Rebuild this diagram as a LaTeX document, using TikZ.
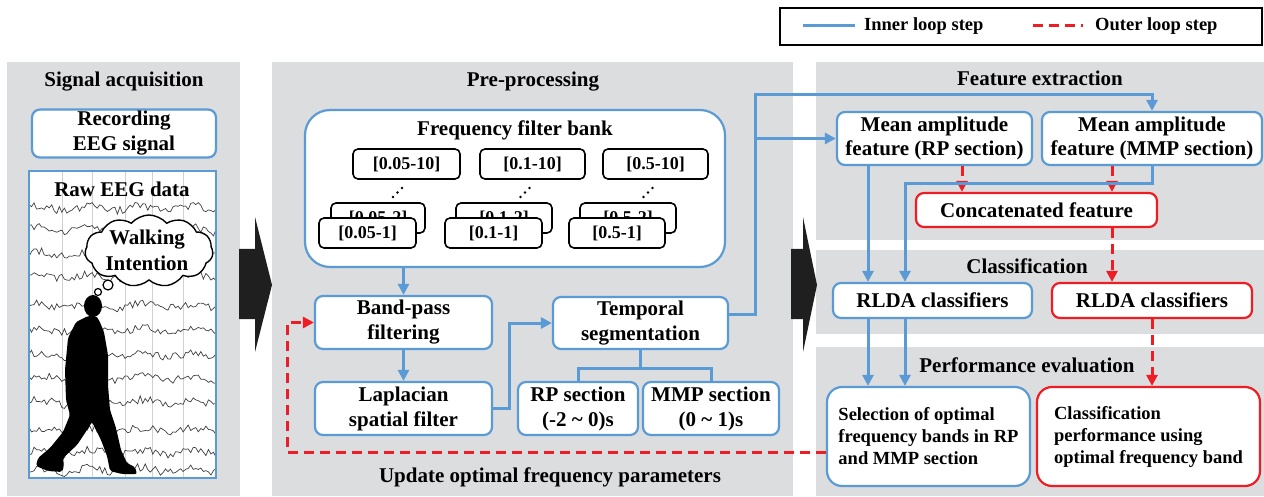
\documentclass[tikz,border=0pt]{standalone}
\usepackage{fontspec}
\setmainfont{Liberation Serif}
\usetikzlibrary{arrows.meta,positioning,shapes.symbols}

\definecolor{lblue}{HTML}{5B9BD5}
\definecolor{lred}{HTML}{EE1D23}
\definecolor{panel}{HTML}{DCDDDE}

\newcommand{\bigfont}{\bfseries\fontsize{21}{25}\selectfont}
\newcommand{\smallfont}{\bfseries\fontsize{18.5}{22}\selectfont}

\tikzset{
  bluebox/.style={draw=lblue, line width=2.2pt, rounded corners=8pt, fill=white,
    align=center, inner sep=0pt, font=\bigfont},
  redbox/.style={bluebox, draw=lred},
  bandbox/.style={draw=black, line width=1.6pt, rounded corners=5pt, fill=white,
    inner sep=0pt, minimum width=96pt, minimum height=30pt, font=\bfseries\fontsize{18}{22}\selectfont},
  heading/.style={font=\bigfont, inner sep=0pt, align=center},
  innerloop/.style={draw=lblue, line width=3pt},
  outerloop/.style={draw=lred, line width=3pt, dash pattern=on 10pt off 6pt},
}

\begin{document}
\begin{tikzpicture}[x=1pt, y=-1pt, >={Triangle[length=11pt,width=11pt]}, node distance=86pt]
    \useasboundingbox (0,0) rectangle (1264,497);

    % panels
    \fill[panel] (7,62) rectangle (240,496);
    \fill[panel] (272,62) rectangle (793,496);
    \fill[panel] (816,62) rectangle (1264,240);
    \fill[panel] (816,250) rectangle (1264,334);
    \fill[panel] (816,347) rectangle (1264,496);

    \fill[black!88] (239,249) -- (255,249) -- (255,217) -- (272,285) -- (255,352) -- (255,319) -- (239,319) -- cycle;
    \fill[black!88] (791,249) -- (803,249) -- (803,217) -- (817,285) -- (803,352) -- (803,319) -- (791,319) -- cycle;

    % legend
    \draw[line width=2pt] (780,8) rectangle (1262,45);
    \coordinate (li1) at (803,26);
    \coordinate (li2) at (855,26);
    \coordinate (lo1) at (1033,26);
    \coordinate (lo2) at (1083,26);
    \draw[innerloop] (li1) -- (li2);
    \draw[outerloop] (lo1) -- (lo2);
    \node[heading, font=\smallfont, anchor=west] (lin) at (864,26) {Inner loop step};
    \node[heading, font=\smallfont, anchor=west] (lout) at (1095,26) {Outer loop step};

    % signal acquisition
    \node[heading] (sa) at (124,82) {Signal acquisition};
    \node[bluebox, minimum width=184pt, minimum height=48pt] (rec) at (124,133.5) {Recording\\EEG signal};

    \fill[white] (29,171) rectangle (216,478);
    \begin{scope}
        \clip (29,171) rectangle (216,478);
        \foreach \gx in {62,92,125,152,183}
            \draw[black!18, line width=0.6pt] (\gx,171) -- (\gx,478);
        \pgfmathsetseed{42}
        \foreach \yy in {208,230,254,276,306,330,355,378,402,430,452,470}
            \draw[black!75, line width=0.7pt] plot[domain=29:216, samples=75] (\x, {\yy+2.5*sin(7*\x)+4*rand});
    \end{scope}
    \fill[black] (93,306) ellipse[x radius=9pt, y radius=11pt];
    \fill[black, rounded corners=2pt] (88,316) -- (76,322) -- (68,338) -- (65,370) -- (66,400) -- (70,415)
        -- (63,432) -- (50,448) -- (38,458) -- (36,466) -- (48,471) -- (62,472) -- (64,466) -- (63,458)
        -- (77,445) -- (87,430) -- (92,422) -- (101,440) -- (107,456) -- (110,471) -- (122,474)
        -- (137,474) -- (135,467) -- (127,463) -- (121,450) -- (116,428) -- (110,410) -- (108,385)
        -- (108,355) -- (104,332) -- (99,320) -- (96,316) -- cycle;
    \node[cloud, draw=black, fill=white, line width=1.4pt, cloud puffs=11, cloud puff arc=100,
        aspect=1.8, minimum width=128pt, minimum height=72pt, inner sep=0pt] (cl) at (149,251) {};
    \draw[black, fill=white, line width=1.2pt] (98,292) circle[radius=3.5pt];
    \draw[black, fill=white, line width=1.2pt] (108,285) circle[radius=5pt];
    \node[heading, font=\bfseries\fontsize{21}{26}\selectfont] (wi) at (147,250) {Walking\\Intention};
    \node[heading] (raw) at (122,189) {Raw EEG data};
    \draw[lblue, line width=2pt] (29,171) rectangle (216,478);

    % pre-processing
    \node[heading] (pp) at (533,82) {Pre-processing};
    \node[bluebox, rounded corners=25pt, minimum width=420pt, minimum height=157pt] (FB) at (515,188.5) {};
    \node[heading] (fbt) at (515,130) {Frequency filter bank};
    \node[bandbox, minimum width=107pt] (T1) at (406.5,164) {[0.05-10]};
    \node[bandbox, minimum width=105pt] (T2) at (532.5,164) {[0.1-10]};
    \node[bandbox, minimum width=105pt] (T3) at (655.5,164) {[0.5-10]};
    \node[bandbox, minimum width=94pt] (B1) at (378,218) {[0.05-2]};
    \node[bandbox] (B2) at (504,218) {[0.1-2]};
    \node[bandbox] (B3) at (628,218) {[0.5-2]};
    \node[bandbox, minimum width=97pt] (F1) at (367.5,233) {[0.05-1]};
    \node[bandbox, minimum width=97pt] (F2) at (493.5,233) {[0.1-1]};
    \node[bandbox] (F3) at (617,233) {[0.5-1]};
    \foreach \cx in {397.5,525,648}
        \fill (\cx-4.5,197) circle[radius=1.3pt] (\cx,192.5) circle[radius=1.3pt] (\cx+4.5,188) circle[radius=1.3pt];

    \node[bluebox, minimum width=177pt, minimum height=53pt] (BP) at (403.5,322.5) {Band-pass\\filtering};
    \node[bluebox, minimum width=177pt, minimum height=53pt] (LAP) [below of=BP] {Laplacian\\spatial filter};
    \node[bluebox, minimum width=175pt, minimum height=52pt] (TS) at (640.5,323) {Temporal\\segmentation};
    \node[bluebox, minimum width=120pt, minimum height=53pt] (RP) at (578,408.5) {RP section\\(-2 \char`\~{} 0)s};
    \node[bluebox, minimum width=136pt, minimum height=53pt, node distance=133pt] (MMP) [right of=RP] {MMP section\\(0 \char`\~{} 1)s};
    \node[heading] (upd) at (550,477) {Update optimal frequency parameters};

    \draw[innerloop,->] (FB.south -| BP.north) -- (BP.north);
    \draw[innerloop,->] (BP) -- (LAP);
    \draw[innerloop,->] (LAP.east) -- ++(16,0) |- (TS.west);
    \draw[innerloop] (TS.south) -- ++(0,18) -| (RP.north);
    \draw[innerloop] (TS.south) -- ++(0,18) -| (MMP.north);

    % feature extraction
    \node[heading] (fe) at (1040,78) {Feature extraction};
    \node[bluebox, minimum width=195pt, minimum height=53pt, font=\bfseries\fontsize{21}{24}\selectfont] (FRP) at (934.5,138.5) {Mean amplitude\\feature (RP section)};
    \node[bluebox, minimum width=220pt, minimum height=53pt, font=\bfseries\fontsize{21}{24}\selectfont] (FMMP) at (1152,138.5) {Mean amplitude\\feature (MMP section)};
    \node[redbox, minimum width=241pt, minimum height=34pt] (CAT) at (1036.5,210) {Concatenated feature};

    % classification and evaluation
    \node[heading] (cls) at (1027,266) {Classification};
    \node[bluebox, minimum width=199pt, minimum height=35pt] (C1) at (932.5,300.5) {RLDA classifiers};
    \node[redbox, minimum width=200pt, minimum height=35pt] (C2) at (1152,300.5) {RLDA classifiers};
    \node[heading] (pe) at (1027,365) {Performance evaluation};
    \node[bluebox, rounded corners=15pt, minimum width=203pt, minimum height=99pt, align=left, font=\smallfont] (SEL) at (928.5,436.5) {Selection of optimal\\frequency bands in RP\\and MMP section};
    \node[redbox, rounded corners=15pt, minimum width=223pt, minimum height=99pt, align=left, font=\smallfont] (PERF) at (1148.5,436.5) {Classification\\performance using\\optimal frequency band};

    \coordinate (J) at (755,95);
    \draw[innerloop,->] ([yshift=9pt]TS.east) -| (J) -| (FMMP.north);
    \draw[innerloop,->] (J |- FRP.west) -- (FRP.west);
    \draw[outerloop,->] ([xshift=27.5pt]FRP.south) -- ([xshift=-74.5pt]CAT.north);
    \draw[outerloop,->] ([xshift=-40pt]FMMP.south) -- ([xshift=75.5pt]CAT.north);
    \draw[innerloop,->] ([xshift=-66.5pt]FRP.south) -- ([xshift=-64.5pt]C1.north);
    \draw[innerloop,->] (FMMP.south) -- ++(0,17) -| ([xshift=-27.5pt]C1.north);
    \draw[outerloop,->] ([xshift=75.5pt]CAT.south) -- ([xshift=-40pt]C2.north);
    \draw[innerloop,->] ([xshift=-64.5pt]C1.south) -- ([xshift=-60.5pt]SEL.north);
    \draw[innerloop,->] ([xshift=-27.5pt]C1.south) -- ([xshift=-23.5pt]SEL.north);
    \draw[outerloop,->] (C2.south) -- ([xshift=3.5pt]PERF.north);

    \coordinate (U) at (287,452);
    \draw[outerloop,->] ([yshift=-15.5pt]SEL.west) -- (U) |- (BP.west);
\end{tikzpicture}
\end{document}
